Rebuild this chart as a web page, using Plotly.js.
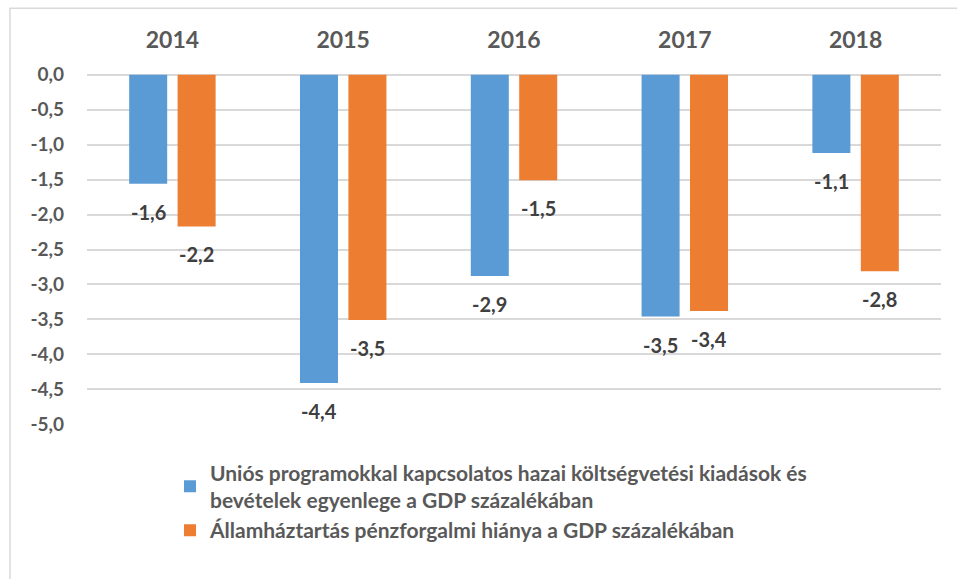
<!DOCTYPE html>
<html>
<head>
<meta charset="utf-8">
<script src="https://cdn.plot.ly/plotly-3.0.1.min.js"></script>
<style>html,body{margin:0;padding:0;background:#fff;}#chart{width:957px;height:579px;}</style>
</head>
<body>
<div id="chart"></div>
<script>
const years = ['2014', '2015', '2016', '2017', '2018'];
const euBalance = [-1.56, -4.41, -2.88, -3.46, -1.12];
const govDeficit = [-2.17, -3.51, -1.51, -3.38, -2.81];
const seriesNames = [
  'Uniós programokkal kapcsolatos hazai költségvetési kiadások és<br>bevételek egyenlege a GDP százalékában',
  'Államháztartás pénzforgalmi hiánya a GDP százalékában'
];
const yTickVals = [0, -0.5, -1, -1.5, -2, -2.5, -3, -3.5, -4, -4.5, -5];
const yTickLabels = ['0,0', '-0,5', '-1,0', '-1,5', '-2,0', '-2,5', '-3,0', '-3,5', '-4,0', '-4,5', '-5,0'];

const FONT = 'Lato, "Open Sans", sans-serif';
const fmt = v => v.toFixed(1).replace('.', ',');

const traces = [
  {type: 'bar', name: seriesNames[0], x: years, y: euBalance,
   marker: {color: '#5B9BD5'}, hoverinfo: 'x+y'},
  {type: 'bar', name: seriesNames[1], x: years, y: govDeficit,
   marker: {color: '#ED7D31'}, hoverinfo: 'x+y'}
];

const annotations = [];
[euBalance, govDeficit].forEach((arr, si) => {
  arr.forEach((v, i) => {
    annotations.push({
      x: i, y: v, xref: 'x', yref: 'y',
      text: fmt(v), showarrow: false,
      xshift: si === 0 ? -24.2 : 24.2, yshift: -28,
      xanchor: 'center', yanchor: 'middle',
      font: {family: FONT, size: 20, color: '#404040', weight: 'bold'}
    });
  });
});

const layout = {
  width: 957, height: 579,
  margin: {l: 87, r: 16, t: 74, b: 154, pad: 0},
  paper_bgcolor: '#ffffff', plot_bgcolor: '#ffffff',
  font: {family: FONT, color: '#595959'},
  barmode: 'group', bargap: 0.433, bargroupgap: 0.215,
  showlegend: true,
  legend: {
    orientation: 'v', x: 0.0972, xanchor: 'left', y: -0.078, yanchor: 'top',
    font: {family: FONT, size: 21, color: '#595959', weight: 'bold'},
    tracegroupgap: 2, bgcolor: 'rgba(0,0,0,0)'
  },
  xaxis: {
    side: 'top', type: 'category', range: [-0.5, 4.5], showgrid: false, zeroline: false, showline: false,
    ticks: '', ticklabelstandoff: 20,
    tickfont: {family: FONT, size: 23, color: '#595959', weight: 'bold'}
  },
  yaxis: {
    range: [-5.01, 0.01], tickvals: yTickVals, ticktext: yTickLabels,
    showgrid: true, gridcolor: '#d9d9d9', gridwidth: 2,
    zeroline: true, zerolinecolor: '#d9d9d9', zerolinewidth: 2,
    showline: false, ticks: '', ticklabelstandoff: 22,
    tickfont: {family: FONT, size: 19, color: '#595959', weight: 'bold'}
  },
  annotations: annotations,
  shapes: [{
    type: 'rect', xref: 'paper', yref: 'paper',
    x0: -0.0902, x1: 1.2, y0: -0.7, y1: 1.1875,
    line: {color: '#d9d9d9', width: 1.5}, fillcolor: 'rgba(0,0,0,0)', layer: 'below'
  }]
};

Plotly.newPlot('chart', traces, layout, {displayModeBar: false, staticPlot: true});
</script>
</body>
</html>
